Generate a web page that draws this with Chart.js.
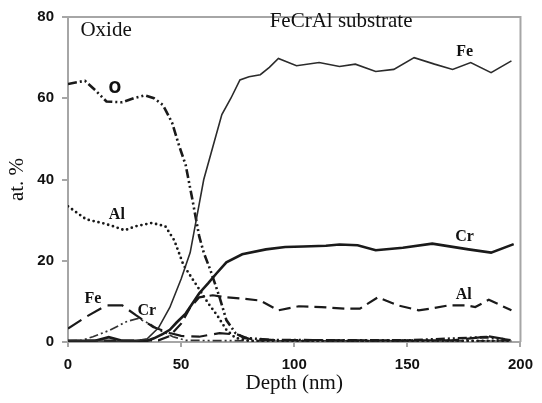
<!DOCTYPE html>
<html>
<head>
<meta charset="utf-8">
<script src="https://cdn.jsdelivr.net/npm/chart.js@4.4.1/dist/chart.umd.min.js"></script>
<style>
  html, body { margin: 0; padding: 0; background: #fff; }
</style>
</head>
<body>
<canvas id="chart" width="542" height="403"></canvas>
<script>
'use strict';

// Depth profile, at.% vs depth (nm).

// substrate Fe (thin solid)
const feSubX = [0, 10, 20, 30, 35, 40, 45, 50, 54, 57, 60, 64, 68, 72, 76, 80, 85, 89, 93, 101, 111, 120, 127, 136, 144, 153, 162, 170, 178, 187, 196];
const feSubY = [0.3, 0.3, 0.2, 0.3, 0.8, 3.5, 8.5, 15.5, 22, 31, 40, 48, 56, 60, 64.5, 65.3, 65.8, 67.6, 69.8, 68, 68.8, 67.8, 68.4, 66.6, 67.1, 70, 68.4, 67.1, 68.8, 66.3, 69.2];

// substrate Cr (thick solid)
const crSubX = [0, 12, 18, 24, 35, 38, 42, 45, 48, 52, 55, 58, 62, 65.5, 70, 77, 87.5, 96, 104, 114, 120, 128, 136, 148, 161, 177, 187, 197];
const crSubY = [0.3, 0.3, 1.2, 0.3, 0.3, 0.9, 2, 3, 4.8, 7, 9.5, 12, 14.5, 16.8, 19.6, 21.6, 22.8, 23.4, 23.5, 23.7, 24, 23.8, 22.6, 23.2, 24.2, 22.8, 22, 24.1];

// substrate Al (short dashes)
const alSubX = [0, 40, 45, 50, 54, 58, 64, 70, 77, 85, 93, 102, 112, 123, 129, 137, 146, 155, 161, 168, 176, 180, 186, 196];
const alSubY = [0.3, 0.4, 1.5, 4.5, 8.5, 11, 11.5, 11, 10.7, 10.2, 7.8, 8.8, 8.6, 8.2, 8.2, 11, 9, 7.8, 8.3, 9, 9, 8.6, 10.4, 7.8];

// oxide O (dash-dot-dot)
const oxOX = [0, 7.5, 12, 17, 24, 29, 34, 38, 42, 46, 49, 52, 55, 58, 60, 63, 67, 70, 74, 78, 90, 120, 150, 185, 196];
const oxOY = [63.5, 64.3, 62, 59.2, 59, 60, 60.7, 60, 58.3, 54, 48.5, 43.6, 35, 26, 22, 17.6, 11, 5.4, 2.2, 1, 0.5, 0.4, 0.4, 1.2, 0.4];

// oxide Al (dotted)
const oxAlX = [0, 3, 8, 15, 20, 25, 30, 37, 43, 47, 51, 55, 58, 62, 66, 70, 74, 80, 120, 160, 196];
const oxAlY = [33.4, 32.2, 30.2, 29.3, 28.5, 27.5, 28.5, 29.3, 28.5, 25, 19, 15.5, 13, 9.5, 6.5, 3, 1, 0.3, 0.3, 0.3, 0.3];

// oxide Fe (long dashes)
const oxFeX = [0, 8, 17, 24, 30, 37.6, 45, 50, 58, 67, 75, 80, 90, 130, 170, 186, 196];
const oxFeY = [3.3, 6.2, 9, 9, 6.6, 3.7, 2.2, 1.5, 1.3, 2.2, 1.8, 0.8, 0.5, 0.4, 0.4, 1.4, 0.4];

// oxide Cr (thin dash-dot)
const oxCrX = [0, 6, 11, 18.5, 25.8, 31, 36, 40.5, 46.4, 52, 80, 140, 196];
const oxCrY = [0.3, 0.4, 1.3, 2.9, 5, 5.8, 4.5, 2.9, 1.3, 0.4, 0.3, 0.3, 0.3];

// text placed on the plot, in data units
const noteText = ['Oxide', 'FeCrAl substrate', 'Fe', 'O', 'Al', 'Fe', 'Cr', 'Cr', 'Al'];
const noteX = [5.5, 120.7, 175.3, 20.7, 21.6, 11, 34.8, 175.3, 174.9];
const noteY = [76.6, 78.8, 71.5, 62.2, 31.2, 10.5, 7.6, 25.9, 11.5];

const xTicks = [0, 50, 100, 150, 200];
const yTicks = [0, 20, 40, 60, 80];

const SERIF = '"Liberation Serif", "Times New Roman", serif';
const SANS = '"Liberation Sans", Arial, sans-serif';

function pts(xs, ys) {
  return xs.map((x, i) => ({ x, y: ys[i] }));
}

function line(label, xs, ys, width, dash, color) {
  return {
    label,
    data: pts(xs, ys),
    borderColor: color || '#1a1a1a',
    borderWidth: width,
    borderDash: dash,
    borderCapStyle: dash.length && dash[0] === 0 ? 'round' : 'butt',
    pointRadius: 0,
    tension: 0,
    fill: false,
  };
}

const notesPlugin = {
  id: 'notes',
  afterDraw(chart) {
    const { ctx, chartArea: a, scales: { x, y } } = chart;
    ctx.save();

    // top / right frame
    ctx.strokeStyle = '#a6a6a6';
    ctx.lineWidth = 2;
    ctx.beginPath();
    ctx.moveTo(a.left, a.top);
    ctx.lineTo(a.right, a.top);
    ctx.lineTo(a.right, a.bottom);
    ctx.stroke();

    ctx.fillStyle = '#111';
    ctx.textBaseline = 'middle';
    noteText.forEach((t, i) => {
      const big = i < 2;
      ctx.font = big ? `21px ${SERIF}` : `bold 16px ${SERIF}`;
      if (t === 'O') ctx.font = 'bold 15px "DejaVu Sans", sans-serif';
      ctx.textAlign = i === 0 ? 'left' : 'center';
      ctx.fillText(t, x.getPixelForValue(noteX[i]), y.getPixelForValue(noteY[i]));
    });

    // axis titles
    ctx.font = `21px ${SERIF}`;
    ctx.textAlign = 'center';
    ctx.fillText('Depth (nm)', (a.left + a.right) / 2, 383);
    ctx.translate(17, (a.top + a.bottom) / 2);
    ctx.rotate(-Math.PI / 2);
    ctx.fillText('at. %', 0, 0);
    ctx.restore();
  },
};

new Chart(document.getElementById('chart'), {
  type: 'line',
  data: {
    datasets: [
      line('Fe substrate', feSubX, feSubY, 1.6, [], '#2b2b2b'),
      line('Cr substrate', crSubX, crSubY, 2.6, []),
      line('Al substrate', alSubX, alSubY, 2.2, [12, 6]),
      line('O', oxOX, oxOY, 2.6, [9, 3, 2, 3, 2, 3]),
      line('Al oxide', oxAlX, oxAlY, 2.8, [0, 5]),
      line('Fe oxide', oxFeX, oxFeY, 2.2, [16, 7]),
      line('Cr oxide', oxCrX, oxCrY, 1.7, [9, 3, 2, 3, 2, 3], '#333'),
    ],
  },
  options: {
    responsive: false,
    animation: false,
    layout: { padding: { top: 14, right: 20, left: 0, bottom: 0 } },
    plugins: { legend: { display: false }, tooltip: { enabled: false } },
    scales: {
      x: {
        type: 'linear',
        min: 0,
        max: 200,
        afterFit: (s) => { s.height = 61; },
        afterBuildTicks: (s) => { s.ticks = xTicks.map(v => ({ value: v })); },
        border: { color: '#a6a6a6', width: 2 },
        grid: { drawOnChartArea: false, color: '#a6a6a6', tickLength: 5, lineWidth: 2 },
        ticks: { color: '#111', font: { family: SANS, size: 15, weight: 'bold' }, padding: 9, maxRotation: 0 },
      },
      y: {
        min: 0,
        max: 80,
        afterFit: (s) => { s.width = 68; },
        afterBuildTicks: (s) => { s.ticks = yTicks.map(v => ({ value: v })); },
        border: { color: '#a6a6a6', width: 2 },
        grid: { drawOnChartArea: false, color: '#a6a6a6', tickLength: 6, lineWidth: 2 },
        ticks: { color: '#111', font: { family: SANS, size: 15, weight: 'bold' }, padding: 8 },
      },
    },
  },
  plugins: [notesPlugin],
});
</script>
</body>
</html>
